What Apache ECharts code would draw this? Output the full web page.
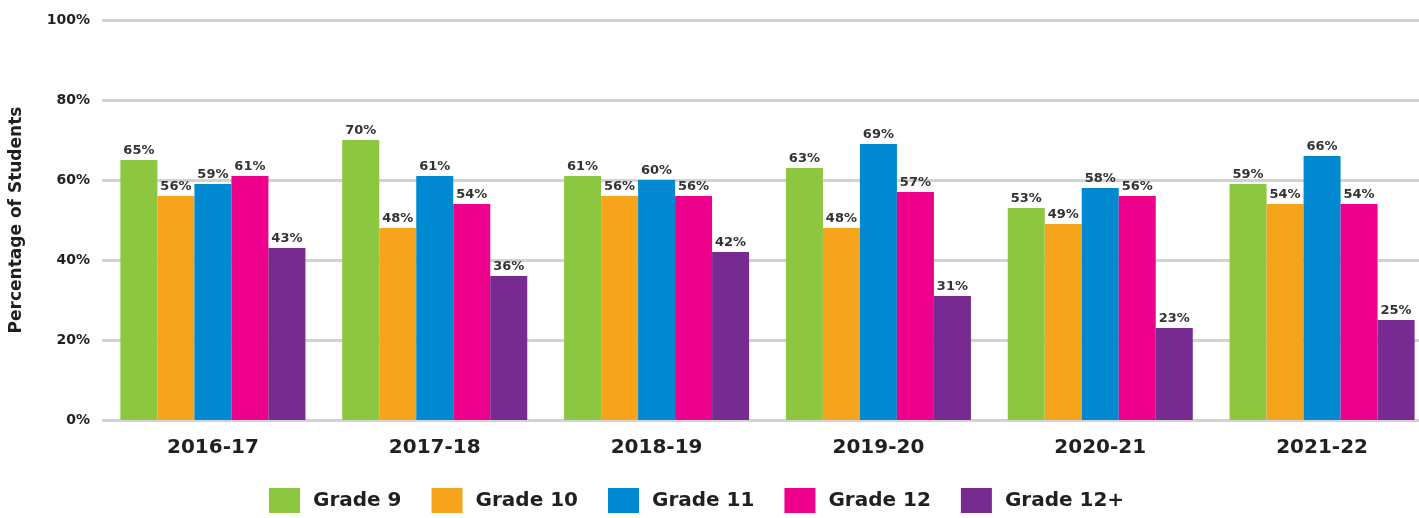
<!DOCTYPE html>
<html>
<head>
<meta charset="UTF-8">
<title>Percentage of Students by Grade</title>
<script src="https://cdn.jsdelivr.net/npm/echarts@6/dist/echarts.min.js"></script>
<style>
  html, body { margin: 0; padding: 0; background: #fff; overflow: hidden; }
  #chart { width: 1433px; height: 518px; }
</style>
</head>
<body>
<div id="chart"></div>
<script>
// school years
var years = ['2016-17', '2017-18', '2018-19', '2019-20', '2020-21', '2021-22'];
var gradeNames = ['Grade 9', 'Grade 10', 'Grade 11', 'Grade 12', 'Grade 12+'];

// percentage of students per grade, one value per year
var grade9   = [65, 70, 61, 63, 53, 59];
var grade10  = [56, 48, 56, 48, 49, 54];
var grade11  = [59, 61, 60, 69, 58, 66];
var grade12  = [61, 54, 56, 57, 56, 54];
var grade12p = [43, 36, 42, 31, 23, 25];

var yTicks = [0, 20, 40, 60, 80, 100];

var colors = ['#8dc63f', '#f7a41d', '#0089d0', '#ec008c', '#772a90'];
var allValues = [grade9, grade10, grade11, grade12, grade12p];
var font = "'DejaVu Sans', sans-serif";

var chart = echarts.init(document.getElementById('chart'), null, { renderer: 'canvas' });

var series = gradeNames.map(function (name, i) {
    return {
        name: name,
        type: 'bar',
        data: allValues[i],
        barGap: '0%',
        barCategoryGap: '16.6%',
        itemStyle: { color: colors[i] },
        label: {
            show: true,
            position: 'top',
            distance: 3,
            formatter: '{c}%',
            color: '#333',
            fontSize: 13,
            fontWeight: 600,
            fontFamily: font
        }
    };
});

var option = {
    animation: false,
    color: colors,
    grid: { left: 102, right: 0, top: 20, bottom: 98, containLabel: false },
    legend: {
        data: gradeNames,
        bottom: 0,
        left: 264,
        icon: 'rect',
        itemWidth: 31,
        itemHeight: 25,
        itemGap: 30,
        textStyle: {
            fontFamily: font,
            fontWeight: 'bold',
            fontSize: 20,
            color: '#231f20',
            padding: [0, 0, 0, 8]
        }
    },
    xAxis: {
        type: 'category',
        data: years,
        axisLine: { show: false },
        axisTick: { show: false },
        axisLabel: {
            margin: 18,
            fontFamily: font,
            fontWeight: 'bold',
            fontSize: 20,
            color: '#231f20'
        }
    },
    yAxis: {
        type: 'value',
        min: 0,
        max: 100,
        interval: 20,
        name: 'Percentage of Students',
        nameLocation: 'middle',
        nameGap: 77,
        nameTextStyle: {
            fontFamily: font,
            fontWeight: 'bold',
            fontSize: 17,
            color: '#231f20'
        },
        axisLabel: {
            margin: 12,
            fontFamily: font,
            fontWeight: 'bold',
            fontSize: 14,
            color: '#231f20',
            formatter: function (v) { return yTicks.indexOf(v) >= 0 ? v + '%' : ''; }
        },
        splitLine: { lineStyle: { color: '#d1d3d4', width: 3 } }
    },
    series: series
};

chart.setOption(option);
</script>
</body>
</html>
